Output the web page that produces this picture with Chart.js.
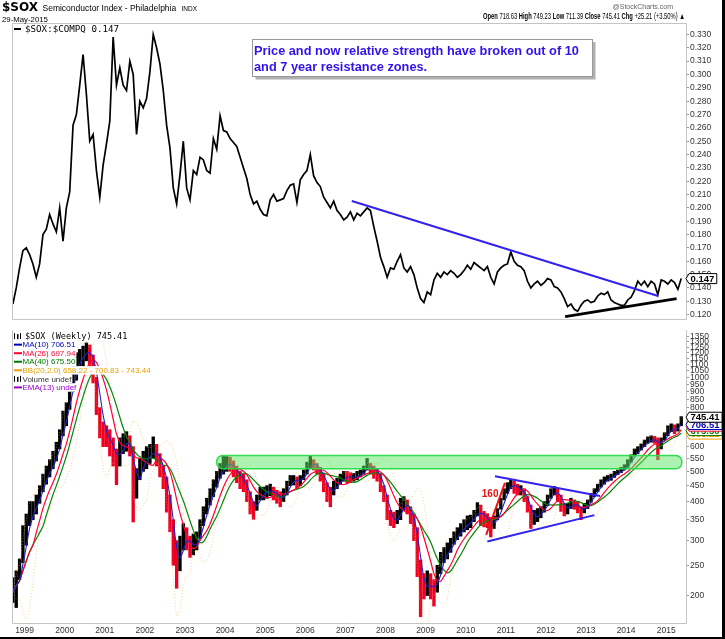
<!DOCTYPE html>
<html>
<head>
<meta charset="utf-8">
<script src="https://cdn.jsdelivr.net/npm/chart.js@4.4.0/dist/chart.umd.min.js"></script>
<style>
body { margin: 0; background: #fff; }
#wrap { position: relative; width: 725px; height: 639px; overflow: hidden; background: #fff; }
#ratioChart { position: absolute; left: 0; top: 0; }
#priceChart { position: absolute; left: 0; top: 324px; }
#edgeR { position: absolute; right: 0; top: 0; width: 3px; height: 639px; background: #000; }
#edgeB { position: absolute; left: 0; bottom: 0; width: 725px; height: 2px; background: #000; }
</style>
</head>
<body>
<div id="wrap">
  <canvas id="ratioChart" width="725" height="325"></canvas>
  <canvas id="priceChart" width="725" height="313"></canvas>
  <div id="edgeR"></div>
  <div id="edgeB"></div>
</div>
<script>
const FONT = "'Liberation Sans', Arial, sans-serif"
const MONO = "'DejaVu Sans Mono', monospace"

// monthly samples, first one is Sep 1998, last one May 2015
const startYear = 1998
const startMonth = 9

// $SOX:$COMPQ ratio, one row per year
const ratio = [
  0.128, 0.140, 0.155, 0.168,
  0.170, 0.165, 0.158, 0.148, 0.158, 0.180, 0.184, 0.195, 0.188, 0.182, 0.200, 0.175,
  0.200, 0.212, 0.262, 0.270, 0.292, 0.315, 0.285, 0.250, 0.255, 0.228, 0.208, 0.232,
  0.248, 0.265, 0.328, 0.292, 0.305, 0.292, 0.288, 0.310, 0.300, 0.255, 0.280, 0.275,
  0.282, 0.302, 0.330, 0.320, 0.308, 0.288, 0.262, 0.245, 0.215, 0.203, 0.225, 0.250,
  0.215, 0.206, 0.228, 0.225, 0.238, 0.236, 0.228, 0.226, 0.252, 0.244, 0.269, 0.258,
  0.257, 0.252, 0.249, 0.246, 0.238, 0.230, 0.222, 0.210, 0.203, 0.205, 0.199, 0.195,
  0.194, 0.206, 0.210, 0.205, 0.206, 0.207, 0.213, 0.217, 0.218, 0.204, 0.221, 0.225,
  0.228, 0.240, 0.224, 0.219, 0.216, 0.208, 0.204, 0.200, 0.205, 0.198, 0.195, 0.191,
  0.193, 0.197, 0.191, 0.196, 0.194, 0.197, 0.200, 0.198, 0.186, 0.175, 0.163, 0.156,
  0.148, 0.155, 0.154, 0.160, 0.165, 0.155, 0.152, 0.156, 0.150, 0.140, 0.132, 0.129,
  0.137, 0.135, 0.146, 0.151, 0.148, 0.152, 0.150, 0.153, 0.151, 0.148, 0.150, 0.153,
  0.157, 0.154, 0.159, 0.157, 0.155, 0.153, 0.156, 0.148, 0.143, 0.152, 0.155, 0.157,
  0.158, 0.167, 0.160, 0.157, 0.156, 0.153, 0.145, 0.140, 0.143, 0.145, 0.142, 0.144,
  0.147, 0.146, 0.141, 0.140, 0.137, 0.132, 0.126, 0.128, 0.124, 0.1225, 0.127, 0.130,
  0.131, 0.129, 0.130, 0.134, 0.136, 0.135, 0.137, 0.131, 0.129, 0.128, 0.127, 0.127,
  0.131, 0.133, 0.138, 0.145, 0.142, 0.145, 0.141, 0.145, 0.143, 0.135, 0.146, 0.145,
  0.143, 0.146, 0.144, 0.139, 0.147
]

// $SOX price, monthly close / high / low
const priceClose = [
  205, 225, 240, 290,
  330, 365, 378, 400, 430, 470, 490, 515, 543, 580, 650, 730,
  780, 910, 1020, 1130, 1160, 1175, 1240, 1180, 1060, 880, 730, 660,
  640, 610, 570, 530, 600, 615, 625, 600, 420, 480, 515, 540,
  555, 570, 583, 560, 520, 480, 425, 350, 270, 240, 285, 310,
  300, 285, 290, 300, 328, 365, 390, 415, 445, 475, 505, 520,
  535, 525, 505, 490, 470, 460, 430, 385, 380, 400, 428, 428,
  430, 437, 425, 412, 408, 420, 445, 470, 470, 465, 470, 490,
  515, 540, 523, 510, 490, 460, 430, 425, 450, 458, 470, 483,
  480, 478, 478, 485, 492, 505, 525, 515, 500, 490, 455, 420,
  365, 350, 345, 352, 390, 395, 382, 360, 325, 260, 215, 208,
  220, 215, 205, 235, 258, 272, 277, 292, 306, 318, 325, 335,
  344, 348, 360, 378, 362, 352, 350, 336, 345, 365, 395, 425,
  445, 460, 445, 437, 437, 415, 385, 352, 357, 365, 370, 388,
  405, 428, 435, 420, 388, 378, 380, 397, 392, 382, 370, 385,
  395, 415, 430, 442, 460, 470, 477, 480, 490, 498, 505, 515,
  530, 556, 575, 588, 600, 618, 630, 632, 630, 600, 625, 650,
  680, 690, 675, 695, 745
]
const priceHigh = [
  228, 240, 262, 335,
  365, 400, 400, 420, 450, 490, 520, 545, 580, 620, 680, 780,
  830, 980, 1120, 1200, 1230, 1260, 1290, 1270, 1180, 1000, 800, 720,
  700, 680, 640, 590, 640, 660, 670, 650, 600, 510, 550, 580,
  600, 610, 645, 610, 570, 520, 480, 420, 350, 300, 310, 340,
  330, 310, 315, 320, 350, 385, 410, 440, 470, 500, 530, 558,
  558, 555, 540, 520, 500, 490, 470, 430, 400, 420, 445, 445,
  450, 455, 445, 435, 430, 440, 465, 485, 485, 480, 485, 505,
  535, 560, 545, 530, 515, 490, 460, 445, 465, 475, 490, 500,
  500, 495, 492, 500, 505, 520, 550, 530, 520, 510, 490, 450,
  420, 375, 370, 375, 410, 415, 405, 385, 365, 330, 260, 235,
  240, 235, 225, 250, 275, 285, 295, 305, 320, 330, 340, 350,
  360, 362, 375, 397, 390, 372, 366, 356, 360, 380, 410, 440,
  460, 470, 465, 455, 450, 440, 415, 390, 375, 380, 385, 400,
  420, 440, 447, 440, 420, 395, 395, 410, 405, 400, 385, 395,
  405, 425, 440, 455, 470, 480, 485, 490, 500, 505, 515, 525,
  545, 565, 590, 600, 612, 630, 645, 650, 648, 640, 640, 665,
  700, 710, 705, 710, 749
]
const priceLow = [
  190, 183, 225, 255,
  290, 335, 350, 365, 395, 430, 455, 480, 510, 540, 590, 650,
  700, 790, 900, 980, 1050, 1080, 1130, 1080, 960, 760, 640, 600,
  600, 560, 520, 453, 520, 570, 580, 560, 344, 410, 470, 500,
  510, 530, 550, 520, 480, 440, 370, 320, 250, 211, 240, 280,
  280, 265, 270, 280, 305, 335, 365, 390, 415, 445, 475, 490,
  500, 500, 480, 460, 440, 430, 400, 365, 351, 375, 405, 405,
  410, 418, 405, 395, 385, 400, 420, 450, 452, 440, 450, 470,
  490, 510, 505, 490, 465, 430, 400, 385, 420, 440, 455, 465,
  460, 460, 465, 470, 480, 490, 505, 490, 475, 465, 430, 400,
  350, 335, 330, 340, 350, 375, 365, 340, 300, 230, 171, 195,
  200, 195, 185, 205, 235, 255, 262, 275, 292, 302, 310, 320,
  325, 330, 345, 360, 335, 332, 330, 308, 328, 350, 378, 405,
  425, 440, 425, 420, 420, 400, 370, 328, 338, 345, 355, 370,
  388, 410, 420, 400, 372, 360, 365, 380, 378, 368, 350, 368,
  380, 398, 415, 430, 445, 455, 465, 468, 478, 488, 495, 505,
  515, 535, 560, 570, 585, 600, 615, 620, 615, 545, 590, 630,
  650, 670, 660, 673, 700
]

const yearTicks = [1999, 2000, 2001, 2002, 2003, 2004, 2005, 2006, 2007, 2008, 2009, 2010, 2011, 2012, 2013, 2014, 2015]
const ratioTicks = [0.12, 0.13, 0.14, 0.15, 0.16, 0.17, 0.18, 0.19, 0.20, 0.21, 0.22, 0.23, 0.24, 0.25, 0.26, 0.27, 0.28, 0.29, 0.30, 0.31, 0.32, 0.33]
const priceTicks = [200, 250, 300, 350, 400, 450, 500, 550, 600, 650, 700, 750, 800, 850, 900, 950, 1000, 1050, 1100, 1150, 1200, 1250, 1300, 1350]

// hand drawn lines, [year, value]
const ratioDownTrend = [[2007.16, 0.2052], [2014.80, 0.134]]
const ratioUpTrend = [[2012.48, 0.1185], [2015.26, 0.132]]
const triangleTop = [[2010.73, 482], [2013.35, 417]]
const triangleBottom = [[2010.54, 298], [2013.21, 362]]
const breakoutLine = [[2010.51, 313], [2010.98, 459]]
const breakoutLabel = [2010.61, 422, '160']
const zoneStart = 2003.79, zoneEnd = 2015.39, zoneLow = 510, zoneHigh = 562

// last values as printed by the legend
const lastRatio = '0.147'
const lastPrice = ['745.41', '706.51', '697.94', '675.50', '658.22']
const priceLegend = [
  ['$SOX (Weekly) 745.41', '#000'],
  ['MA(10) 706.51', '#0000bb'],
  ['MA(26) 697.94', '#ff0033'],
  ['MA(40) 675.50', '#007700'],
  ['BB(20,2.0) 658.22 - 700.83 - 743.44', '#e8a000'],
  ['Volume undef', '#333'],
  ['EMA(13) undef', '#9900cc']
]

const xMin = 1998.686, xMax = 2015.494

const months = ratio.map((_, i) => {
  const m = startMonth - 1 + i
  return startYear + Math.floor(m / 12) + ((m % 12) + 0.5) / 12
})

// weekly periods expressed in monthly samples
function movingAverage(values, n) {
  return values.map((v, i) => {
    const win = values.slice(Math.max(0, i - n + 1), i + 1)
    return win.reduce((a, b) => a + b, 0) / win.length
  })
}
function bollinger(values, n, k) {
  const mid = movingAverage(values, n)
  const upper = [], lower = []
  values.forEach((v, i) => {
    const win = values.slice(Math.max(0, i - n + 1), i + 1)
    const sd = Math.sqrt(win.reduce((a, b) => a + (b - mid[i]) * (b - mid[i]), 0) / win.length)
    upper.push(mid[i] + k * sd)
    lower.push(mid[i] - k * sd)
  })
  return {upper, lower}
}

const ma10 = movingAverage(priceClose, 3)
const ma26 = movingAverage(priceClose, 7)
const ma40 = movingAverage(priceClose, 10)
const bb = bollinger(priceClose, 5, 2)

const toPoints = arr => arr.map((v, i) => ({x: months[i], y: v}))
const pairPoints = arr => arr.map(p => ({x: p[0], y: p[1]}))

function lineSet(data, color, width, order, extra) {
  return Object.assign({type: 'line', data: data, borderColor: color, borderWidth: width,
    pointRadius: 0, tension: 0, order: order, fill: false}, extra || {})
}

function fitFont(ctx, text, width, bold, family) {
  ctx.font = (bold ? 'bold ' : '') + '10px ' + family
  return 10 * width / ctx.measureText(text).width
}

function drawTag(ctx, x, y, text, color) {
  ctx.font = 'bold 9.5px ' + FONT
  const w = ctx.measureText(text).width + 4
  ctx.beginPath()
  ctx.moveTo(x, y)
  ctx.lineTo(x + 3, y - 5)
  ctx.lineTo(x + 3 + w, y - 5)
  ctx.lineTo(x + 3 + w, y + 5)
  ctx.lineTo(x + 3, y + 5)
  ctx.closePath()
  ctx.fillStyle = '#fff'
  ctx.fill()
  ctx.lineWidth = 1
  ctx.strokeStyle = color
  ctx.stroke()
  ctx.fillStyle = color
  ctx.textBaseline = 'middle'
  ctx.textAlign = 'left'
  ctx.fillText(text, x + 4.5, y + 0.5)
}

const ratioDecor = {
  id: 'ratioDecor',
  afterDraw(chart) {
    const ctx = chart.ctx
    const a = chart.chartArea
    ctx.save()
    ctx.strokeStyle = '#c4c4c4'
    ctx.lineWidth = 1
    ctx.strokeRect(a.left + 0.5, a.top + 0.5, a.right - a.left, a.bottom - a.top)

    // header
    ctx.textBaseline = 'alphabetic'
    ctx.textAlign = 'left'
    ctx.fillStyle = '#000'
    ctx.font = "bold 12px 'DejaVu Sans', sans-serif"
    ctx.fillText('$SOX', 2, 10.5)
    ctx.font = '8.5px ' + FONT
    ctx.fillText('Semiconductor Index - Philadelphia', 42.5, 10.5)
    ctx.font = '6.5px ' + FONT
    ctx.fillText('INDX', 181.5, 10.5)
    ctx.font = '7.8px ' + FONT
    ctx.fillText('29-May-2015', 2, 21.5)
    ctx.fillStyle = '#666'
    ctx.font = '7px ' + FONT
    ctx.textAlign = 'right'
    ctx.fillText('@StockCharts.com', 673, 8.5)
    ctx.textAlign = 'left'

    // quote line, squeezed sideways into its slot
    const runs = [['Open', 1], [' 718.63 ', 0], ['High', 1], [' 749.23 ', 0], ['Low', 1], [' 711.39 ', 0],
      ['Close', 1], [' 745.41 ', 0], ['Chg', 1], [' +25.21 (+3.50%) \u25b2', 0]]
    const qFont = b => (b ? 'bold ' : '') + '8.6px ' + FONT
    let w = 0
    runs.forEach(r => { ctx.font = qFont(r[1]); w += ctx.measureText(r[0]).width })
    ctx.save()
    ctx.translate(483, 19.3)
    ctx.scale(202 / w, 1)
    let x = 0
    ctx.fillStyle = '#000'
    runs.forEach(r => {
      ctx.font = qFont(r[1])
      ctx.fillText(r[0], x, 0)
      x += ctx.measureText(r[0]).width
    })
    ctx.restore()

    // legend
    ctx.fillStyle = '#000'
    ctx.fillRect(14, 28, 7, 2)
    ctx.font = '9.2px ' + MONO
    ctx.textBaseline = 'middle'
    ctx.fillText('$SOX:$COMPQ ' + lastRatio, 25, 29.5)

    // note box
    ctx.fillStyle = '#b0b0b0'
    ctx.fillRect(255.5, 42, 340, 37.5)
    ctx.fillStyle = '#fff'
    ctx.fillRect(252.5, 39.5, 340, 37)
    ctx.strokeStyle = '#999'
    ctx.strokeRect(252.5, 39.5, 340, 37)
    const line1 = 'Price and now relative strength have broken out of 10'
    const fs = fitFont(ctx, line1, 325, true, FONT)
    ctx.font = 'bold ' + fs.toFixed(2) + 'px ' + FONT
    ctx.fillStyle = '#3311ee'
    ctx.textBaseline = 'alphabetic'
    ctx.fillText(line1, 254, 54.5)
    ctx.fillText('and 7 year resistance zones.', 254, 70.5)

    const ys = chart.scales.y
    drawTag(ctx, a.right, ys.getPixelForValue(Number(lastRatio)), lastRatio, '#000')
    ctx.restore()
  }
}

const priceDecor = {
  id: 'priceDecor',
  afterDatasetsDraw(chart) {
    const ctx = chart.ctx
    const a = chart.chartArea
    const xs = chart.scales.x, ys = chart.scales.y
    ctx.save()
    ctx.beginPath()
    ctx.rect(a.left, a.top, a.right - a.left, a.bottom - a.top)
    ctx.clip()

    // resistance zone
    const zx0 = xs.getPixelForValue(zoneStart), zx1 = xs.getPixelForValue(zoneEnd)
    const zy0 = ys.getPixelForValue(zoneHigh), zy1 = ys.getPixelForValue(zoneLow)
    ctx.beginPath()
    ctx.roundRect(zx0, zy0, zx1 - zx0, zy1 - zy0, 6)
    ctx.fillStyle = 'rgba(90, 232, 100, 0.5)'
    ctx.fill()
    ctx.strokeStyle = 'rgba(40, 220, 70, 0.95)'
    ctx.lineWidth = 1.5
    ctx.stroke()

    ctx.font = 'bold 10px ' + FONT
    ctx.fillStyle = '#ee1111'
    ctx.textAlign = 'center'
    ctx.textBaseline = 'middle'
    ctx.fillText(breakoutLabel[2], xs.getPixelForValue(breakoutLabel[0]), ys.getPixelForValue(breakoutLabel[1]))
    ctx.restore()

    // legend
    ctx.save()
    ctx.textAlign = 'left'
    ctx.textBaseline = 'middle'
    priceLegend.forEach((row, i) => {
      const y = a.top + 6 + i * 8.55
      const bars = i === 0 || i === 5
      ctx.font = (i === 0 ? '8.5px ' + MONO : '8px ' + FONT)
      const tx = i === 0 ? 25 : 22.5
      const tw = ctx.measureText(row[0]).width
      ctx.fillStyle = '#fff'
      ctx.fillRect(13, y - 4.2, tx - 13 + tw + 1, 8.5)
      if (bars) {
        ctx.fillStyle = '#000'
        ctx.fillRect(14, y - 3, 1, 6)
        ctx.fillRect(17, y - 2, 1.5, 5)
        ctx.fillRect(20, y - 3, 1, 6)
      } else {
        ctx.fillStyle = row[1]
        ctx.fillRect(14, y - 1, 8, 2)
      }
      ctx.fillStyle = row[1]
      ctx.fillText(row[0], tx, y + 0.5)
    })
    ctx.restore()
  },
  afterDraw(chart) {
    const ctx = chart.ctx
    const a = chart.chartArea
    const ys = chart.scales.y
    ctx.save()
    ctx.strokeStyle = '#c4c4c4'
    ctx.lineWidth = 1
    ctx.beginPath()
    ctx.moveTo(a.left + 0.5, a.top)
    ctx.lineTo(a.left + 0.5, a.bottom + 0.5)
    ctx.lineTo(a.right + 0.5, a.bottom + 0.5)
    ctx.lineTo(a.right + 0.5, a.top)
    ctx.stroke()
    const tagColors = ['#000', '#0000bb', '#ff0033', '#007700', '#f0a000']
    for (let i = lastPrice.length - 1; i >= 0; i--) {
      drawTag(ctx, a.right, ys.getPixelForValue(Number(lastPrice[i])), lastPrice[i], tagColors[i])
    }
    ctx.restore()
  }
}

const axisFont = {size: 8.5, family: FONT}

new Chart(document.getElementById('ratioChart'), {
  type: 'line',
  data: {
    datasets: [
      lineSet(toPoints(ratio), '#000', 1.7, 3),
      lineSet(pairPoints(ratioDownTrend), '#3322ee', 2, 1),
      lineSet(pairPoints(ratioUpTrend), '#000', 2.6, 2)
    ]
  },
  options: {
    responsive: false,
    animation: false,
    events: [],
    layout: {padding: {left: 12, top: 23, right: 0, bottom: 1}},
    plugins: {legend: {display: false}, tooltip: {enabled: false}},
    scales: {
      x: {type: 'linear', display: false, min: xMin, max: xMax},
      y: {
        position: 'right',
        min: 0.1168,
        max: 0.3386,
        afterBuildTicks: s => { s.ticks = ratioTicks.map(v => ({value: v})) },
        afterFit: s => { s.width = 39 },
        grid: {drawOnChartArea: false, drawTicks: true, tickLength: 3, color: '#999'},
        border: {display: false},
        ticks: {font: axisFont, color: '#333', padding: 1, autoSkip: false, callback: v => v.toFixed(3)}
      }
    }
  },
  plugins: [ratioDecor]
})

const barColors = priceClose.map((c, i) => (i > 0 && c < priceClose[i - 1]) ? '#ee0022' : '#000')

new Chart(document.getElementById('priceChart'), {
  type: 'bar',
  data: {
    datasets: [
      {type: 'bar', data: months.map((t, i) => ({x: t, y: [priceLow[i], priceHigh[i]]})),
        backgroundColor: barColors, barThickness: 2.7, order: 9},
      lineSet(toPoints(bb.upper), 'rgba(236, 176, 60, 0.55)', 1, 8, {borderDash: [1, 2], tension: 0.3}),
      lineSet(toPoints(bb.lower), 'rgba(236, 176, 60, 0.55)', 1, 8, {borderDash: [1, 2], tension: 0.3}),
      lineSet(toPoints(ma40), '#008800', 1.2, 7, {tension: 0.3}),
      lineSet(toPoints(ma26), '#ff0033', 1.2, 6, {tension: 0.3}),
      lineSet(toPoints(ma10), '#2222cc', 1.1, 5, {tension: 0.3}),
      lineSet(pairPoints(triangleTop), '#3322ee', 2, 2),
      lineSet(pairPoints(triangleBottom), '#3322ee', 2, 2),
      lineSet(pairPoints(breakoutLine), '#ee1111', 2, 2)
    ]
  },
  options: {
    responsive: false,
    animation: false,
    events: [],
    layout: {padding: {left: 12, top: 0, right: 0, bottom: 0}},
    plugins: {legend: {display: false}, tooltip: {enabled: false}},
    scales: {
      x: {
        type: 'linear',
        min: xMin,
        max: xMax,
        offset: false,
        afterBuildTicks: s => { s.ticks = yearTicks.map(v => ({value: v})) },
        afterFit: s => { s.height = 14 },
        grid: {display: false, drawTicks: false},
        border: {display: false},
        ticks: {font: axisFont, color: '#333', padding: 3, maxRotation: 0, autoSkip: false, callback: v => String(v)}
      },
      y: {
        type: 'logarithmic',
        position: 'right',
        min: 163.3,
        max: 1418,
        afterBuildTicks: s => { s.ticks = priceTicks.map(v => ({value: v})) },
        afterFit: s => { s.width = 39 },
        grid: {drawOnChartArea: false, drawTicks: true, tickLength: 3, color: '#999'},
        border: {display: false},
        ticks: {font: axisFont, color: '#333', padding: 1, autoSkip: false, callback: v => String(v)}
      }
    }
  },
  plugins: [priceDecor]
})
</script>
</body>
</html>
